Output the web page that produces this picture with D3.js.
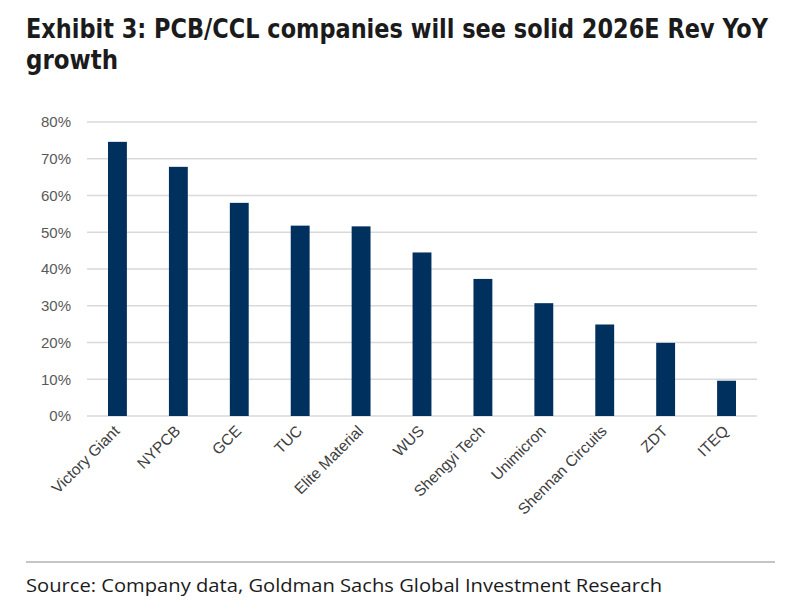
<!DOCTYPE html>
<html>
<head>
<meta charset="utf-8">
<script src="https://cdn.jsdelivr.net/npm/d3@7"></script>
<style>
  body { margin:0; background:#fff; }
  svg { display:block; }
</style>
</head>
<body>
<svg id="chart" width="800" height="613"></svg>
<script>
// chart data
const companies = ['Victory Giant','NYPCB','GCE','TUC','Elite Material','WUS','Shengyi Tech','Unimicron','Shennan Circuits','ZDT','ITEQ'];
const revGrowth = [0.746, 0.678, 0.580, 0.518, 0.516, 0.445, 0.373, 0.307, 0.249, 0.199, 0.096];
const yTicks = [0, 0.1, 0.2, 0.3, 0.4, 0.5, 0.6, 0.7, 0.8];

const svg = d3.select('#chart');
const margin = {left:87, right:43, top:122, bottom:197};
const W = 800, H = 613;

const x = d3.scaleBand().domain(companies).range([margin.left, W - margin.right]).paddingInner(0.69).paddingOuter(0.345);
const y = d3.scaleLinear().domain([0, 0.8]).range([H - margin.bottom, margin.top]);

// title
const title = svg.append('g').attr('font-family','"DejaVu Sans", sans-serif').attr('font-weight','bold')
  .attr('font-stretch','condensed').attr('font-size',26).attr('fill','#1b1b1b');
title.append('text').attr('x',26).attr('y',38).attr('textLength',742).attr('lengthAdjust','spacingAndGlyphs')
  .text('Exhibit 3: PCB/CCL companies will see solid 2026E Rev YoY');
title.append('text').attr('x',26).attr('y',69).attr('textLength',92).attr('lengthAdjust','spacingAndGlyphs').text('growth');

// gridlines
svg.append('g').selectAll('line').data(yTicks).join('line')
  .attr('x1', margin.left).attr('x2', W - margin.right)
  .attr('y1', d => y(d)).attr('y2', d => y(d))
  .attr('stroke','#d9d9d9').attr('stroke-width',1.5);

// y axis labels
const yAxis = d3.axisLeft(y).tickValues(yTicks).tickFormat(d3.format('.0%')).tickSize(0).tickPadding(16);
svg.append('g').attr('transform',`translate(${margin.left},0)`).call(yAxis)
  .call(g => g.select('.domain').remove())
  .selectAll('text').attr('font-family','Arial, "Liberation Sans", sans-serif').attr('font-size',15).attr('fill','#595959');

// bars
svg.append('g').selectAll('rect').data(companies).join('rect')
  .attr('x', d => x(d)).attr('width', x.bandwidth())
  .attr('y', (d,i) => y(revGrowth[i])).attr('height', (d,i) => y(0) - y(revGrowth[i]))
  .attr('fill','#00305e');

// x labels, rotated
const xAxis = d3.axisBottom(x).tickSize(0).tickPadding(0);
svg.append('g').attr('transform',`translate(0,${y(0)})`).call(xAxis)
  .call(g => g.select('.domain').remove())
  .selectAll('text')
  .attr('font-family','Arial, "Liberation Sans", sans-serif').attr('font-size',15.5).attr('fill','#404040')
  .attr('text-anchor','end').attr('dy',null).attr('y',0)
  .attr('transform','translate(3,16) rotate(-45)');

// footer
svg.append('line').attr('x1',26).attr('x2',775).attr('y1',562).attr('y2',562).attr('stroke','#8c8c8c').attr('stroke-width',1.2);
svg.append('text').attr('x',26).attr('y',592).attr('font-family','"Open Sans", sans-serif').attr('font-size',19)
  .attr('fill','#1b1b1b').attr('textLength',636).attr('lengthAdjust','spacingAndGlyphs')
  .text('Source: Company data, Goldman Sachs Global Investment Research');
</script>
</body>
</html>
